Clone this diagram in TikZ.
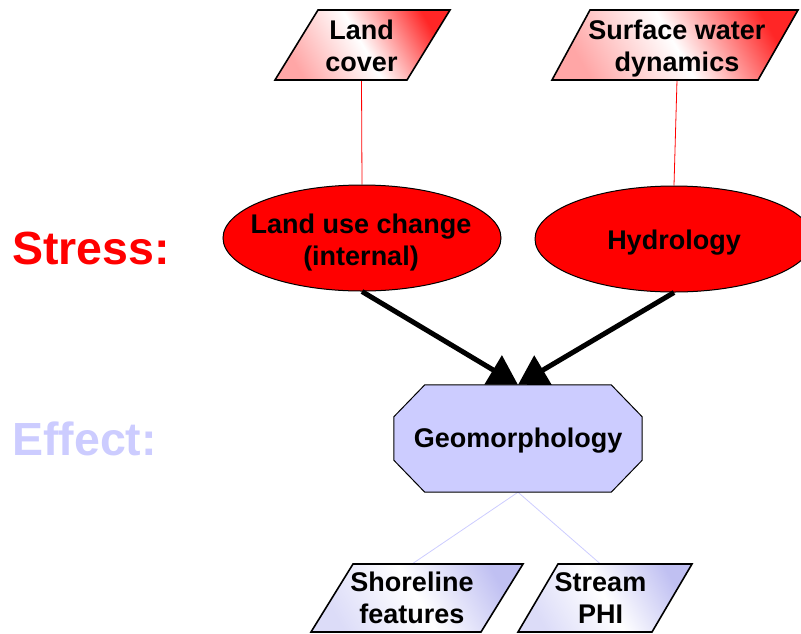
\documentclass[tikz,border=0pt]{standalone}
\usepackage{fontspec}
\setmainfont{Liberation Sans}
\usetikzlibrary{shapes.geometric,arrows.meta,backgrounds,calc}
\definecolor{stressred}{RGB}{255,0,0}
\definecolor{effectblue}{RGB}{204,204,255}
\definecolor{paleblueA}{RGB}{192,192,242}
\definecolor{paleblueB}{RGB}{220,220,248}
\begin{document}
\begin{tikzpicture}[x=1pt,y=-1pt,
  txt/.style={font=\fontsize{27}{32}\selectfont\bfseries, align=center, inner sep=0pt},
  heading/.style={font=\fontsize{46.5}{50}\selectfont\bfseries, inner sep=0pt, anchor=base west},
  stressoval/.style={ellipse, draw=black, line width=1pt, fill=stressred, inner sep=0pt,
    minimum width=278pt, minimum height=106pt},
  effectbox/.style={draw=black, line width=1pt, fill=effectblue},
  redpara/.style={draw=black, line width=1.6pt, top color=red!85, bottom color=red!35,
    middle color=white, shading angle=-60},
  bluepara/.style={draw=black, line width=1.6pt, top color=paleblueA, bottom color=paleblueB,
    middle color=white, shading angle=-60},
  redlink/.style={draw=stressred, line width=0.8pt},
  bluelink/.style={draw=effectblue, line width=0.8pt},
  pusharrow/.style={line width=5pt, -{Triangle[length=29pt,width=33pt]}}]
\clip (0,0) rectangle (801,633);

% side headings
\node[heading, text=stressred] (stress) at (12,264) {Stress:};
\node[heading, text=effectblue] (effect) at (12,455) {Effect:};

% stress ovals and their labels
\node[stressoval] (luc) at (362,238) {};
\node[stressoval] (hyd) at (674,239) {};
\node[txt] (luc-txt) at (361,243) {Land use change\\(internal)};
\node[txt] (hyd-txt) at (674,243) {Hydrology};

% effect box: octagon around a plain rectangle node
\node[txt, minimum width=248pt, minimum height=107pt] (geo) at (518,438.5) {};
\node[txt] (geo-txt) at (518,441) {Geomorphology};

% data source / indicator labels
\node[txt] (lc) at (361.5,46) {Land\\cover};
\node[txt] (sw) at (677,49) {Surface water\\dynamics};
\node[txt] (sf) at (412,598) {Shoreline\\features};
\node[txt] (sp) at (600.5,598) {Stream\\PHI};

% connector end points on the parallelogram edges
\coordinate (lc-bot) at ($(lc)+(0,34)$);
\coordinate (sw-bot) at (677,80);
\coordinate (sf-top) at ($(sf)+(0,-34)$);
\coordinate (sp-top) at ($(sp)+(0,-34)$);

\begin{scope}[on background layer]
  \draw[redlink] (lc-bot) -- (luc.north);
  \draw[redlink] (sw-bot) -- (hyd.north);
  \draw[bluelink] (geo.south) -- (sf-top);
  \draw[bluelink] (geo.south) -- (sp-top);
  % octagon of the effect box
  \path[effectbox] ([xshift=31pt]geo.north west) -- ([xshift=-31pt]geo.north east)
    -- ([yshift=-32pt]geo.north east) -- ([yshift=32pt]geo.south east)
    -- ([xshift=-31pt]geo.south east) -- ([xshift=31pt]geo.south west)
    -- ([yshift=32pt]geo.south west) -- ([yshift=-32pt]geo.north west) -- cycle;
  % parallelogram frames behind the labels
  \path[redpara] ($(lc)+(-86.5,34)$) -- ($(lc)+(-43.5,-36)$) -- ($(lc)+(88.5,-36)$) -- ($(lc)+(45.5,34)$) -- cycle;
  \path[redpara] (552,80) -- (590,10) -- (798,10) -- (758,80) -- cycle;
  \path[bluepara] ($(sf)+(-101,34)$) -- ($(sf)+(-59,-34)$) -- ($(sf)+(111,-34)$) -- ($(sf)+(69,34)$) -- cycle;
  \path[bluepara] ($(sp)+(-82.5,34)$) -- ($(sp)+(-42.5,-34)$) -- ($(sp)+(91.5,-34)$) -- ($(sp)+(51.5,34)$) -- cycle;
\end{scope}

% stress feeds effect
\draw[pusharrow] (luc.south) -- (geo.north);
\draw[pusharrow] (hyd.south) -- (geo.north);
\end{tikzpicture}
\end{document}
